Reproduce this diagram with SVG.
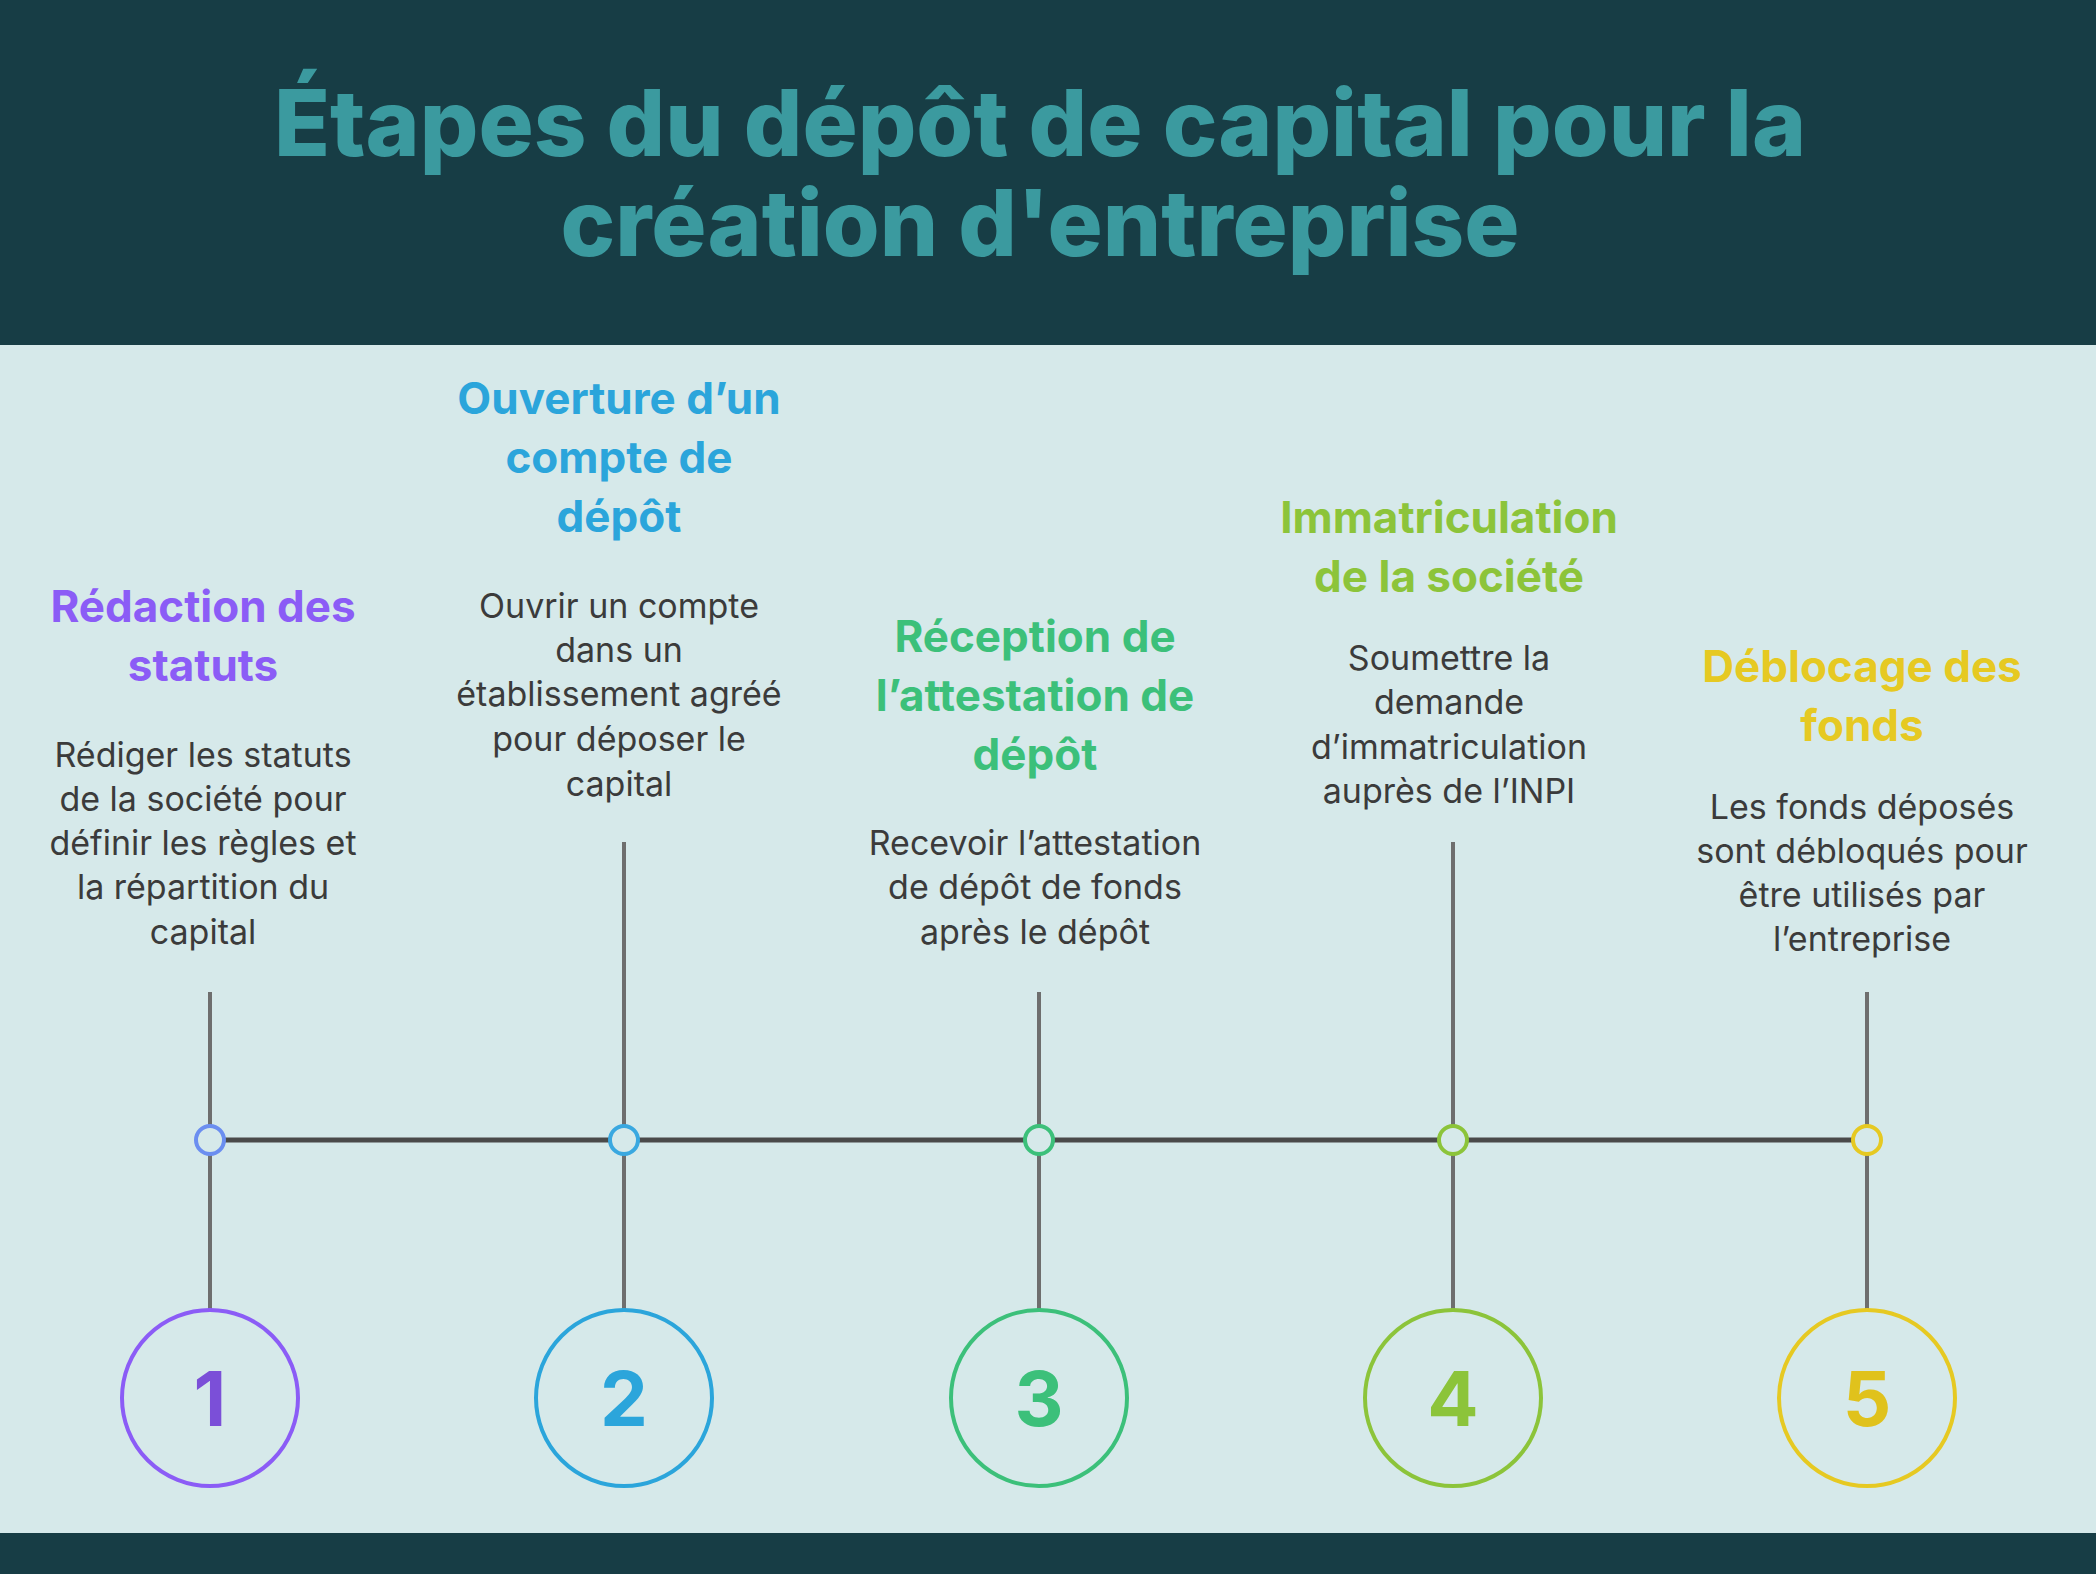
<svg xmlns="http://www.w3.org/2000/svg" width="2096" height="1574" viewBox="0 0 2096 1574">
<style>
.t{font-family:Inter,"Liberation Sans",sans-serif;font-weight:700;font-size:44px;text-anchor:middle}
.d{font-family:Inter,"Liberation Sans",sans-serif;font-size:34px;fill:#3b3b3b;text-anchor:middle}
.n{font-family:Inter,"Liberation Sans",sans-serif;font-weight:700;font-size:76px;text-anchor:middle}
.v{stroke:#6e6e6e;stroke-width:4}
</style>
<rect width="2096" height="1574" fill="#d6e9ea"/>
<rect width="2096" height="345" fill="#173d45"/>
<rect y="1533" width="2096" height="41" fill="#173d45"/>
<g font-family="Inter,'Liberation Sans',sans-serif" font-weight="800" font-size="92" fill="#3b9a9f" text-anchor="middle">
<text x="1040" y="156">Étapes du dépôt de capital pour la</text>
<text x="1040" y="256">création d'entreprise</text>
</g>
<g id="connectors">
<line x1="210" y1="1140" x2="1867" y2="1140" stroke="#4a4a4a" stroke-width="5"/>
<line class="v" x1="210" y1="992" x2="210" y2="1310"/>
<line class="v" x1="624" y1="842" x2="624" y2="1310"/>
<line class="v" x1="1039" y1="992" x2="1039" y2="1310"/>
<line class="v" x1="1453" y1="842" x2="1453" y2="1310"/>
<line class="v" x1="1867" y1="992" x2="1867" y2="1310"/>
</g>
<g id="step1">
<circle cx="210" cy="1140" r="14" fill="#d6e9ea" stroke="#6b8ef0" stroke-width="4"/>
<circle cx="210" cy="1398" r="88" fill="none" stroke="#8b5cf6" stroke-width="4"/>
<text class="n" x="210" y="1426" fill="#7b4fd8">1</text>
<text class="t" fill="#8b5cf6" x="203" y="622">Rédaction des</text>
<text class="t" fill="#8b5cf6" x="203" y="681">statuts</text>
<text class="d" x="203" y="767">Rédiger les statuts</text>
<text class="d" x="203" y="811">de la société pour</text>
<text class="d" x="203" y="855">définir les règles et</text>
<text class="d" x="203" y="899">la répartition du</text>
<text class="d" x="203" y="944">capital</text>
</g>
<g id="step2">
<circle cx="624" cy="1140" r="14" fill="#d6e9ea" stroke="#3aa8e0" stroke-width="4"/>
<circle cx="624" cy="1398" r="88" fill="none" stroke="#2ba5db" stroke-width="4"/>
<text class="n" x="624" y="1426" fill="#2ba5db">2</text>
<text class="t" fill="#2ba5db" x="619" y="414">Ouverture d’un</text>
<text class="t" fill="#2ba5db" x="619" y="473">compte de</text>
<text class="t" fill="#2ba5db" x="619" y="532">dépôt</text>
<text class="d" x="619" y="618">Ouvrir un compte</text>
<text class="d" x="619" y="662">dans un</text>
<text class="d" x="619" y="706">établissement agréé</text>
<text class="d" x="619" y="751">pour déposer le</text>
<text class="d" x="619" y="796">capital</text>
</g>
<g id="step3">
<circle cx="1039" cy="1140" r="14" fill="#d6e9ea" stroke="#3cc07a" stroke-width="4"/>
<circle cx="1039" cy="1398" r="88" fill="none" stroke="#3cc07a" stroke-width="4"/>
<text class="n" x="1039" y="1426" fill="#3cc07a">3</text>
<text class="t" fill="#3cc07a" x="1035" y="652">Réception de</text>
<text class="t" fill="#3cc07a" x="1035" y="711">l’attestation de</text>
<text class="t" fill="#3cc07a" x="1035" y="770">dépôt</text>
<text class="d" x="1035" y="855">Recevoir l’attestation</text>
<text class="d" x="1035" y="899">de dépôt de fonds</text>
<text class="d" x="1035" y="944">après le dépôt</text>
</g>
<g id="step4">
<circle cx="1453" cy="1140" r="14" fill="#d6e9ea" stroke="#8cc43a" stroke-width="4"/>
<circle cx="1453" cy="1398" r="88" fill="none" stroke="#8cc43a" stroke-width="4"/>
<text class="n" x="1453" y="1426" fill="#8cc43a">4</text>
<text class="t" fill="#8cc43a" x="1449" y="533">Immatriculation</text>
<text class="t" fill="#8cc43a" x="1449" y="592">de la société</text>
<text class="d" x="1449" y="670">Soumettre la</text>
<text class="d" x="1449" y="714">demande</text>
<text class="d" x="1449" y="759">d’immatriculation</text>
<text class="d" x="1449" y="803">auprès de l’INPI</text>
</g>
<g id="step5">
<circle cx="1867" cy="1140" r="14" fill="#d6e9ea" stroke="#e6c922" stroke-width="4"/>
<circle cx="1867" cy="1398" r="88" fill="none" stroke="#e6c922" stroke-width="4"/>
<text class="n" x="1867" y="1426" fill="#e0c21c">5</text>
<text class="t" fill="#e6c922" x="1862" y="682">Déblocage des</text>
<text class="t" fill="#e6c922" x="1862" y="741">fonds</text>
<text class="d" x="1862" y="819">Les fonds déposés</text>
<text class="d" x="1862" y="863">sont débloqués pour</text>
<text class="d" x="1862" y="907">être utilisés par</text>
<text class="d" x="1862" y="951">l’entreprise</text>
</g>
</svg>
